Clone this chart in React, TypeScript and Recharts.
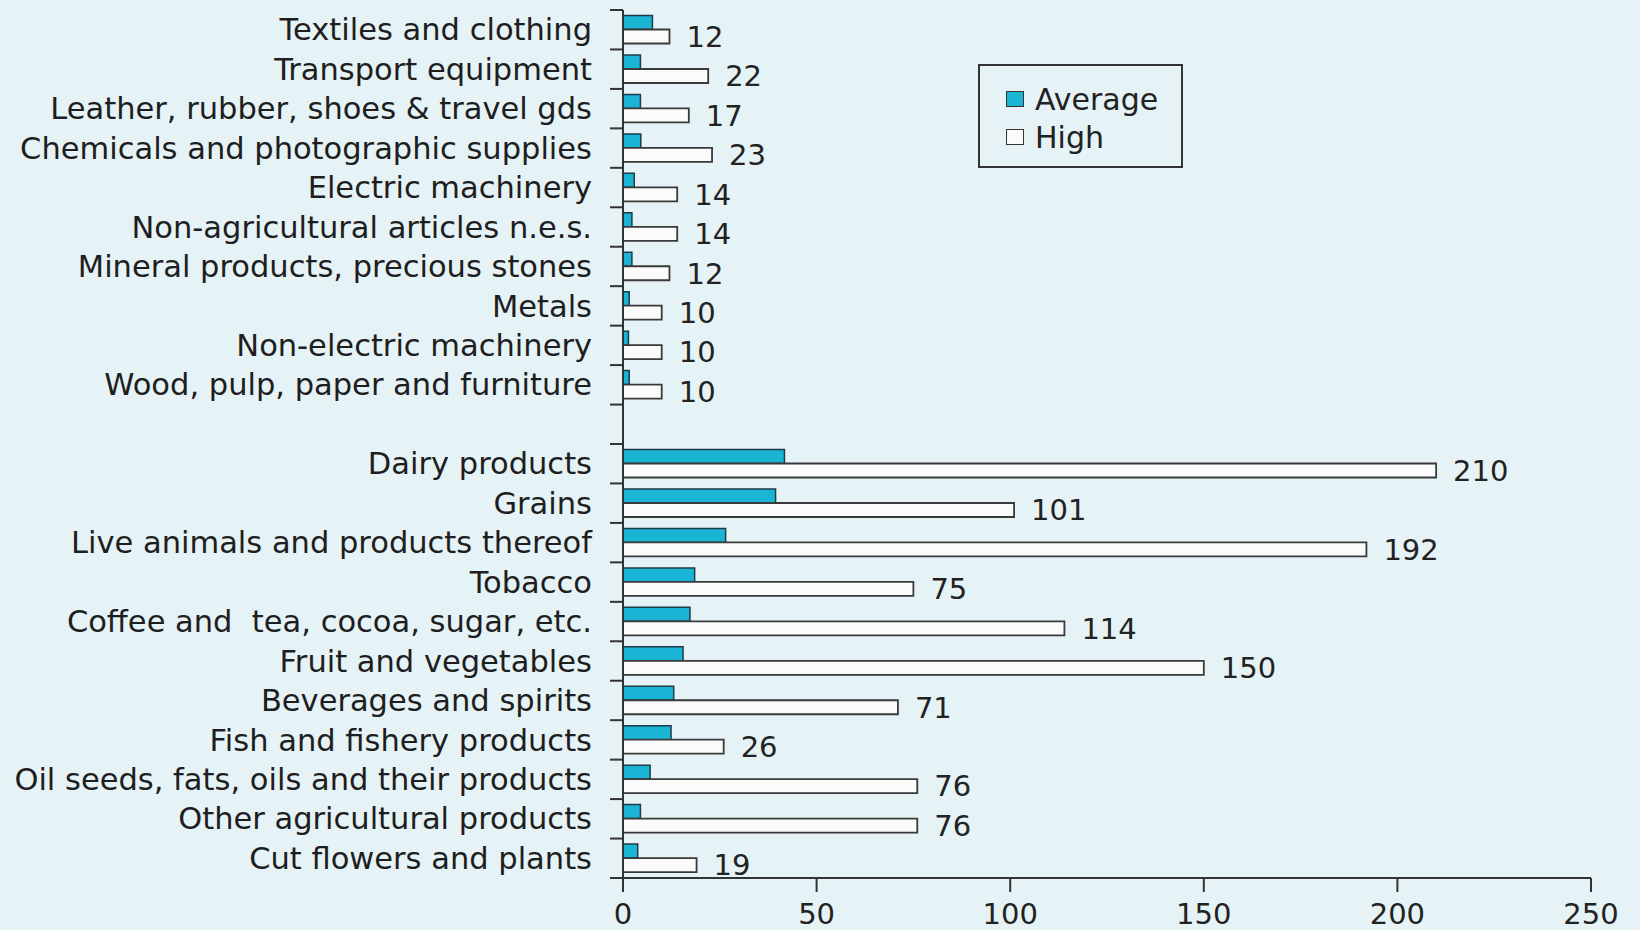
import React from 'react';
import { BarChart, Bar, XAxis, YAxis, Legend, LabelList } from 'recharts';

const categories = [
  'Textiles and clothing',
  'Transport equipment',
  'Leather, rubber, shoes & travel gds',
  'Chemicals and photographic supplies',
  'Electric machinery',
  'Non-agricultural articles n.e.s.',
  'Mineral products, precious stones',
  'Metals',
  'Non-electric machinery',
  'Wood, pulp, paper and furniture',
  '',
  'Dairy products',
  'Grains',
  'Live animals and products thereof',
  'Tobacco',
  'Coffee and\u00a0 tea, cocoa, sugar, etc.',
  'Fruit and vegetables',
  'Beverages and spirits',
  'Fish and fishery products',
  'Oil seeds, fats, oils and their products',
  'Other agricultural products',
  'Cut flowers and plants',
];

const averageValues = [7.6, 4.5, 4.5, 4.6, 2.9, 2.3, 2.3, 1.6, 1.4, 1.6, null, 41.7, 39.4, 26.5, 18.5, 17.3, 15.5, 13.1, 12.4, 7.0, 4.5, 3.8];
const highValues = [12, 22, 17, 23, 14, 14, 12, 10, 10, 10, null, 210, 101, 192, 75, 114, 150, 71, 26, 76, 76, 19];

const xTicks = [0, 50, 100, 150, 200, 250];

const data = categories.map((name, i) => ({
  name,
  average: averageValues[i],
  high: highValues[i],
}));

const FONT = '"DejaVu Sans", sans-serif';
const BG = '#e5f2f6';
const LABEL_GAP = 31; // distance from axis line to the end of the category text
const EDGE_TICK = 13;

// category label plus a small tick at the top edge of its band (bottom edge too for the last one)
const CategoryTick = (props: any) => {
  const { x, y, payload, index, visibleTicksCount } = props;
  const half = payload?.offset ?? 0;
  const axisX = x + LABEL_GAP;
  const isLast = index === (visibleTicksCount ?? categories.length) - 1;
  return (
    <g>
      <line x1={axisX - EDGE_TICK} x2={axisX} y1={y - half} y2={y - half} stroke="#333" strokeWidth={2} />
      {isLast && (
        <line x1={axisX - EDGE_TICK} x2={axisX} y1={y + half} y2={y + half} stroke="#333" strokeWidth={2} />
      )}
      <text
        x={x}
        y={y}
        dy="0.35em"
        textAnchor="end"
        fontSize={30.5}
        fill="#1e1e1e"
        fontFamily={FONT}
        style={{ whiteSpace: 'pre' }}
      >
        {payload.value}
      </text>
    </g>
  );
};

const LegendBox = (props: any) => {
  const { payload = [] } = props;
  return (
    <div
      style={{
        border: '2px solid #333',
        boxSizing: 'border-box',
        width: 205,
        height: 104,
        paddingTop: 14,
        paddingLeft: 26,
        fontFamily: FONT,
        fontSize: 30,
        color: '#222',
      }}
    >
      {payload.map((p: any) => (
        <div key={p.value} style={{ display: 'flex', alignItems: 'center', height: 38 }}>
          <span
            style={{
              display: 'inline-block',
              width: 18,
              height: 16,
              background: p.color,
              border: '1.5px solid #333',
              boxSizing: 'border-box',
              marginRight: 11,
            }}
          />
          <span>{p.value}</span>
        </div>
      ))}
    </div>
  );
};

export default function App() {
  return (
    <div style={{ position: 'fixed', left: 0, top: 0, width: 1640, height: 930, background: BG }}>
      <BarChart
        width={1640}
        height={930}
        data={data}
        layout="vertical"
        margin={{ top: 10, right: 49, bottom: 0, left: 0 }}
        barCategoryGap="14%"
        barGap={0}
      >
        <XAxis
          type="number"
          domain={[0, 250]}
          ticks={xTicks}
          height={52}
          tickSize={14}
          tickMargin={11}
          stroke="#333"
          strokeWidth={2}
          tick={{ fontSize: 29, fill: '#222', fontFamily: FONT }}
        />
        <YAxis
          type="category"
          dataKey="name"
          width={623}
          stroke="#333"
          strokeWidth={2}
          tickLine={false}
          tickSize={0}
          tickMargin={LABEL_GAP}
          interval={0}
          tick={<CategoryTick />}
        />
        <Legend
          layout="horizontal"
          verticalAlign="middle"
          align="center"
          content={<LegendBox />}
          wrapperStyle={{ left: 978, top: 64, width: 205, height: 104 }}
        />
        <Bar
          dataKey="average"
          name="Average"
          fill="#1ab5d5"
          stroke="#1d3b48"
          strokeWidth={1.5}
          isAnimationActive={false}
        />
        <Bar
          dataKey="high"
          name="High"
          fill="#fbfbfb"
          stroke="#3a3a3a"
          strokeWidth={1.8}
          isAnimationActive={false}
        >
          <LabelList
            dataKey="high"
            position="right"
            offset={17}
            style={{ fontSize: 29, fill: '#222', fontFamily: FONT }}
          />
        </Bar>
      </BarChart>
    </div>
  );
}
